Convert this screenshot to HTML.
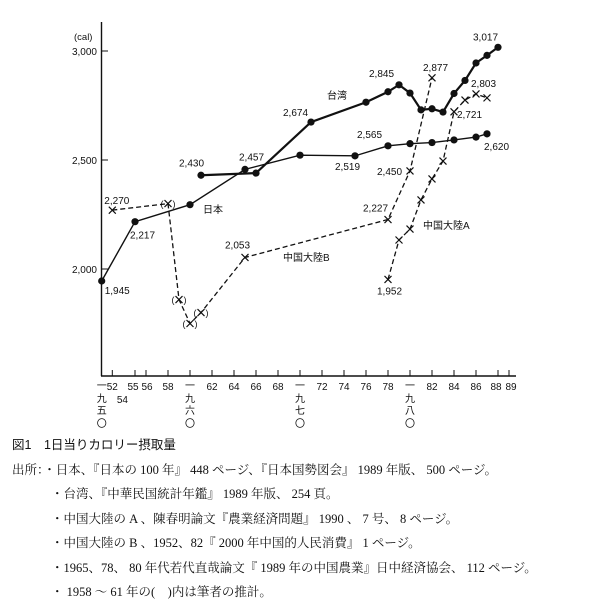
<!DOCTYPE html>
<html><head><meta charset="utf-8">
<style>
html,body{margin:0;padding:0;background:#fff;}
body{width:600px;height:603px;overflow:hidden;position:relative;font-family:"Liberation Sans","Noto Sans CJK JP",sans-serif;}
#cap{position:absolute;left:12px;top:433px;font-family:"Liberation Serif","Noto Serif CJK SC",serif;font-size:12.5px;color:#111;line-height:24.5px;white-space:nowrap;}
#cap div{height:24.5px;}
</style></head><body>
<svg id="chart" width="600" height="430" style="position:absolute;left:0;top:0" font-family="Liberation Sans, Noto Sans CJK JP, sans-serif"></svg>
<div id="cap">
<div style="font-family:'Liberation Sans','Noto Sans CJK JP',sans-serif">図1　1日当りカロリー摂取量</div>
<div>出所：・日本、『日本の 100 年』 448 ページ、『日本国勢図会』 1989 年版、 500 ページ。</div>
<div style="padding-left:39px">・台湾、『中華民国統計年鑑』 1989 年版、 254 頁。</div>
<div style="padding-left:39px">・中国大陸の A 、陳春明論文『農業経済問題』 1990 、 7 号、 8 ページ。</div>
<div style="padding-left:39px">・中国大陸の B 、1952、82『 2000 年中国的人民消費』 1 ページ。</div>
<div style="padding-left:39px">・1965、78、 80 年代若代直哉論文『 1989 年の中国農業』日中経済協会、 112 ページ。</div>
<div style="padding-left:39px">・ 1958 ～ 61 年の(　)内は筆者の推計。</div>
</div>
<script>
const yTicks=[2000,2500,3000];
const xTickYears=[52,55,56,58,60,62,64,66,68,70,72,74,76,78,80,82,84,86,88,89];
const japanYears=[1950,1955,1960,1965,1970,1975,1978,1980,1982,1984,1986,1987];
const japanVals=[1945,2217,2295,2457,2522,2519,2565,2575,2580,2592,2605,2620];
const taiwanYears=[1961,1966,1971,1976,1978,1979,1980,1981,1982,1983,1984,1985,1986,1987,1988];
const taiwanVals=[2430,2440,2674,2765,2813,2845,2807,2730,2735,2720,2805,2865,2945,2980,3017];
const chinaBYears=[1952,1958,1959,1960,1961,1965,1978,1980,1982];
const chinaBVals=[2270,2300,1860,1750,1800,2053,2227,2450,2877];
const chinaAYears=[1978,1979,1980,1981,1982,1983,1984,1985,1986,1987];
const chinaAVals=[1952,2133,2183,2317,2413,2495,2721,2775,2803,2785];

const svg=document.getElementById('chart');
const NS='http://www.w3.org/2000/svg';
function X(yr){const y=yr<100?1900+yr:yr;
  if(y<=1952) return 101.7+(y-1950)*5.3;
  if(y<=1955) return 112.3+(y-1952)*7.57;
  return 135+(y-1955)*11;}
function Y(v){return 160-(v-2500)*0.218;}
function el(tag,attrs,name){const e=document.createElementNS(NS,tag);for(const k in attrs)e.setAttribute(k,attrs[k]);
  
  
  svg.appendChild(e);return e;}
function txt(x,y,s,name,size,anchor){const t=el('text',{x:x,y:y,'font-size':size||10,fill:'#111','text-anchor':anchor||'start'},name);t.textContent=s;return t;}
function fmt(v){return String(v).replace(/(\d)(\d{3})$/,'$1,$2');}

el('line',{x1:101.5,y1:22,x2:101.5,y2:376,stroke:'#111','stroke-width':1.4},'y-axis');
el('line',{x1:101,y1:376,x2:516,y2:376,stroke:'#111','stroke-width':1.4},'x-axis');
txt(74,40,'(cal)','y-axis-unit',9.5);
yTicks.forEach(v=>{el('line',{x1:101,y1:Y(v),x2:108,y2:Y(v),stroke:'#111','stroke-width':1},'y-tick');
  txt(97,Y(v)+4,fmt(v),'y-tick-label',10,'end');});
xTickYears.forEach(yr=>{el('line',{x1:X(yr),y1:376,x2:X(yr),y2:370,stroke:'#111','stroke-width':1},'x-tick');});
const xLabs=[52,55,56,58,62,64,66,68,72,74,76,78,82,84,86,88,89];
xLabs.forEach(yr=>{txt(X(yr)+(yr==55?-2:yr==56?1:yr==88?-2:yr==89?2:0),390,String(yr),'x-tick-label',10,'middle');});
txt(X(54)-5,403,'54','x-tick-label',10,'middle');
[[1950,'五'],[1960,'六'],[1970,'七'],[1980,'八']].forEach(([yr,k])=>{
  const x=X(yr);
  txt(x,389,'一','decade-label',10,'middle');
  txt(x,402,'九','decade-label',10,'middle');
  txt(x,414,k,'decade-label',10,'middle');
  txt(x,427,'〇','decade-label',10,'middle');
});

function line(ys,vs,name,opts){const pts=ys.map((y,i)=>X(y)+','+Y(vs[i])).join(' ');
  el('polyline',Object.assign({points:pts,fill:'none',stroke:'#111'},opts),name);}
line(japanYears,japanVals,'japan-line',{'stroke-width':1.4});
line(taiwanYears,taiwanVals,'taiwan-line',{'stroke-width':2.2});
line(chinaBYears,chinaBVals,'china-b-line',{'stroke-width':1.3,'stroke-dasharray':'5,3'});
line(chinaAYears,chinaAVals,'china-a-line',{'stroke-width':1.3,'stroke-dasharray':'5,3'});
function dots(ys,vs,name){ys.forEach((y,i)=>el('circle',{cx:X(y),cy:Y(vs[i]),r:3.6,fill:'#111'},name));}
dots(japanYears,japanVals,'japan-point');
dots(taiwanYears,taiwanVals,'taiwan-point');
function crosses(ys,vs,name){ys.forEach((y,i)=>{const x=X(y),yy=Y(vs[i]);
  el('path',{d:`M${x-3.5},${yy-3.5}L${x+3.5},${yy+3.5}M${x-3.5},${yy+3.5}L${x+3.5},${yy-3.5}`,stroke:'#111','stroke-width':1.2,fill:'none'},name);});}
crosses(chinaBYears,chinaBVals,'china-b-point');
crosses(chinaAYears,chinaAVals,'china-a-point');
[1958,1959,1960,1961].forEach(yr=>{const i=chinaBYears.indexOf(yr);const x=X(yr),yy=Y(chinaBVals[i]);
  txt(x-6,yy+3.5,'(','estimate-paren',9,'middle');txt(x+6,yy+3.5,')','estimate-paren',9,'middle');});

const vlab=[[1950,1945,3,13],[1955,2217,-5,17],[1965,2457,-6,-9],[1961,2430,-22,-9],[1971,2674,-28,-6],[1975,2519,-20,14],[1978,2565,-31,-8],[1987,2620,-3,16],[1979,2845,-30,-8],[1988,3017,-25,-7]];
vlab.forEach(([y,v,dx,dy])=>txt(X(y)+dx,Y(v)+dy,fmt(v),'value-label',10));
const xlab=[[1952,2270,-8,-6],[1965,2053,-20,-9],[1978,2227,-25,-8],[1980,2450,-33,4],[1982,2877,-9,-7],[1978,1952,-11,15],[1984,2721,3,6],[1986,2803,-5,-7]];
xlab.forEach(([y,v,dx,dy])=>txt(X(y)+dx,Y(v)+dy,fmt(v),'value-label',10));
txt(203,213,'日本','series-label-japan',10);
txt(327,99,'台湾','series-label-taiwan',10);
txt(283,261,'中国大陸B','series-label-china-b',10);
txt(423,229,'中国大陸A','series-label-china-a',10);
</script>
</body></html>
